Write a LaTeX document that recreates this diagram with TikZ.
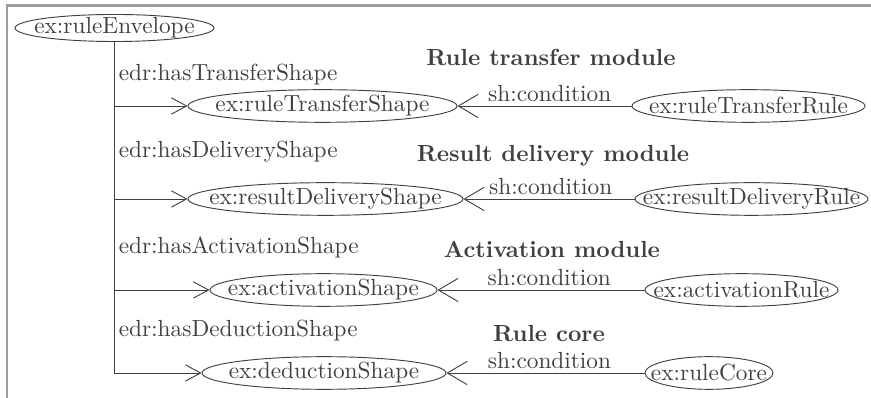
\documentclass[tikz,border=0pt]{standalone}
\usetikzlibrary{shapes.geometric,arrows.meta}
\definecolor{ink}{gray}{0.25}
\definecolor{framegray}{gray}{0.62}

\begin{document}
\begin{tikzpicture}[x=0.429pt,y=-0.429pt,color=ink,
>={Straight Barb[length=6.5pt,width=7pt]},
res/.style={%
ellipse,
draw,
inner sep=-20pt,
minimum width=#1*0.429pt,
minimum height=14pt
},
prop/.style={%
anchor=west,
inner sep=1pt
},
cond/.style={%
above,
inner sep=1.5pt
},
condarrow/.style={%
-{Straight Barb[length=8.5pt,width=10pt]}
},
module/.style={%
font=\bfseries
},
]
\useasboundingbox (0,0) rectangle (871,398);
\draw[framegray,line width=0.9pt] (7,398) |- (871,5.5);
%% Envelope
\node[res=199,minimum height=11.6pt] (env) at (114.5,28) {ex:ruleEnvelope};
%% Shapes
\node[res=269] (transferShape) at (322.5,106) {ex:ruleTransferShape};
\node[res=275] (deliveryShape) at (325.5,199) {ex:resultDeliveryShape};
\node[res=227] (activationShape) at (323.5,290) {ex:activationShape};
\node[res=244] (deductionShape) at (324,373) {ex:deductionShape};
%% Rules
\node[res=233] (transferRule) at (748.5,106) {ex:ruleTransferRule};
\node[res=233] (deliveryRule) at (751.5,199) {ex:resultDeliveryRule};
\node[res=193] (activationRule) at (741.5,290) {ex:activationRule};
\node[res=128] (ruleCore) at (709,373) {ex:ruleCore};
%% Module titles
\node[module] (transferTitle) at (551,57) {Rule transfer module};
\node[module] (deliveryTitle) at (553,156) {Result delivery module};
\node[module] (activationTitle) at (552,249) {Activation module};
\node[module] (coreTitle) at (549,334) {Rule core};
%% Envelope properties
\node[prop] (hasTransfer) at (116,75) {edr:hasTransferShape};
\node[prop] (hasDelivery) at (116,152) {edr:hasDeliveryShape};
\node[prop] (hasActivation) at (116,247) {edr:hasActivationShape};
\node[prop] (hasDeduction) at (116,331) {edr:hasDeductionShape};
\draw[->] (env.south) |- (transferShape.west);
\draw[->] (env.south) |- (deliveryShape.west);
\draw[->] (env.south) |- (activationShape.west);
\draw[->] (env.south) |- (deductionShape.west);
%% Conditions
\draw[condarrow] (transferRule.west) -- node[cond,pos=0.47]{sh:condition} (transferShape.east);
\draw[condarrow] (deliveryRule.west) -- node[cond,pos=0.49]{sh:condition} (deliveryShape.east);
\draw[condarrow] (activationRule.west) -- node[cond,pos=0.46]{sh:condition} (activationShape.east);
\draw[condarrow] (ruleCore.west) -- node[cond,pos=0.48]{sh:condition} (deductionShape.east);
\end{tikzpicture}
\end{document}
